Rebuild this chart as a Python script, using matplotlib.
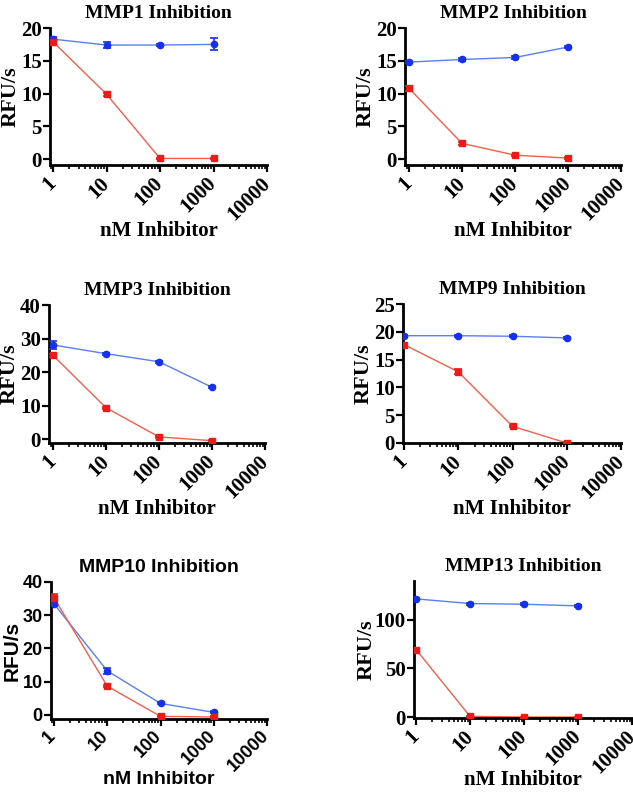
import matplotlib
matplotlib.use("Agg")
import matplotlib.pyplot as plt
import matplotlib.transforms as mtrans
from matplotlib.ticker import LogLocator, FixedLocator, NullFormatter

W, H = 633, 792
conc = [1, 10, 100, 1000]
xtick_labels = ["1", "10", "100", "1000", "10000"]

titles = ["MMP1 Inhibition", "MMP2 Inhibition", "MMP3 Inhibition",
          "MMP9 Inhibition", "MMP10 Inhibition", "MMP13 Inhibition"]

blue_vals = [[18.3, 17.4, 17.4, 17.5],
             [14.8, 15.2, 15.5, 17.1],
             [28.1, 25.5, 23.1, 15.5],
             [19.3, 19.3, 19.2, 18.9],
             [33.4, 13.2, 3.4, 0.7],
             [121.6, 116.8, 116.1, 114.4]]
blue_err = [[0.3, 0.45, 0.2, 0.9],
            [0.2, 0.2, 0.2, 0.2],
            [1.2, 0.3, 0.3, 0.3],
            [0.2, 0.2, 0.2, 0.2],
            [0.5, 1.0, 0.3, 0.3],
            [1.0, 1.0, 1.0, 1.0]]
red_vals = [[17.9, 9.9, 0.1, 0.1],
            [10.8, 2.4, 0.6, 0.15],
            [25.0, 9.4, 0.7, -0.4],
            [17.7, 12.8, 3.0, 0.0],
            [35.2, 8.6, -0.5, -0.7],
            [69.5, 0.7, 0.0, 0.0]]
red_err = [[0.2, 0.2, 0.1, 0.1],
           [0.35, 0.2, 0.1, 0.1],
           [0.4, 0.3, 0.2, 0.2],
           [0.2, 0.45, 0.2, 0.1],
           [1.3, 0.3, 0.2, 0.2],
           [1.0, 0.5, 0.5, 0.5]]

yticks = [[0, 5, 10, 15, 20], [0, 5, 10, 15, 20], [0, 10, 20, 30, 40],
          [0, 5, 10, 15, 20, 25], [0, 10, 20, 30, 40], [0, 50, 100]]
ylims = [(-0.9, 20), (-0.9, 20), (-1.1, 40), (0, 25), (-1.3, 40), (-1, 140)]

# pixel boxes: left, right, top, bottom, offset of x=1 from y axis
boxes = [(50, 267, 28, 165, 3), (405, 621, 28, 165, 4),
         (49, 265, 305, 443, 4), (403, 621, 304, 443, 1),
         (51, 267, 582, 719, 3), (414, 632, 581, 718, 2)]
fonts = ["Liberation Serif"] * 4 + ["Liberation Sans", "Liberation Serif"]

fig = plt.figure(figsize=(W / 100, H / 100), dpi=100)
shift = mtrans.ScaledTranslation(-7 / 100, 0, fig.dpi_scale_trans)

for i in range(6):
    l, r, t, b, off = boxes[i]
    ax = fig.add_axes([l / W, 1 - b / H, (r - l) / W, (b - t) / H])
    fam = fonts[i]
    sans = fam == "Liberation Sans"
    tsize = 13 if sans else 15
    ax.plot(conc, blue_vals[i], color="#5a7ff0", lw=1.0, zorder=2)
    ax.errorbar(conc, blue_vals[i], yerr=blue_err[i], fmt="o", color="#1530f0",
                ms=4.5, capsize=3, elinewidth=1.2, capthick=1.2, zorder=3)
    ax.plot(conc, red_vals[i], color="#f2604a", lw=1.0, zorder=2)
    ax.errorbar(conc, red_vals[i], yerr=red_err[i], fmt="s", color="#ee1a1a",
                ms=4.5, capsize=3, elinewidth=1.2, capthick=1.2, zorder=3)

    ax.set_xscale("log")
    decade = (r - l - off) / 4
    ax.set_xlim(10 ** (-off / decade), 10000)
    ax.set_ylim(*ylims[i])
    ax.xaxis.set_major_locator(FixedLocator([1, 10, 100, 1000, 10000]))
    ax.xaxis.set_minor_locator(LogLocator(base=10, subs=range(2, 10)))
    ax.xaxis.set_minor_formatter(NullFormatter())
    ax.tick_params(axis="both", which="major", direction="out", length=5, width=1.6, pad=1)
    ax.tick_params(axis="x", which="minor", direction="out", length=3, width=1.2)
    ax.set_xticklabels(xtick_labels, rotation=45, ha="right", va="top",
                       rotation_mode="anchor", family=fam, weight="bold", fontsize=tsize)
    for lab in ax.get_xticklabels():
        lab.set_transform(lab.get_transform() + shift)
    ax.set_yticks(yticks[i])
    ax.set_yticklabels([str(v) for v in yticks[i]], family=fam, weight="bold", fontsize=tsize)

    for s in ["top", "right"]:
        ax.spines[s].set_visible(False)
    for s in ["left", "bottom"]:
        ax.spines[s].set_linewidth(2)
    ax.patch.set_alpha(0)

    ax.set_title(titles[i], family=fam, weight="bold", fontsize=14, pad=7)
    ax.set_xlabel("nM Inhibitor", family=fam, weight="bold", fontsize=14 if sans else 15)
    ax.xaxis.set_label_coords(0.5, -(52 if i >= 4 else 56) / (b - t))
    ax.set_ylabel("RFU/s", family=fam, weight="bold", fontsize=15 if sans else 16)
    ylx = 39 if i != 5 else 47
    ax.yaxis.set_label_coords(-ylx / (r - l), 0.5)
    ax.yaxis.label.set_va("center")

fig.savefig("out.png", dpi=100)
